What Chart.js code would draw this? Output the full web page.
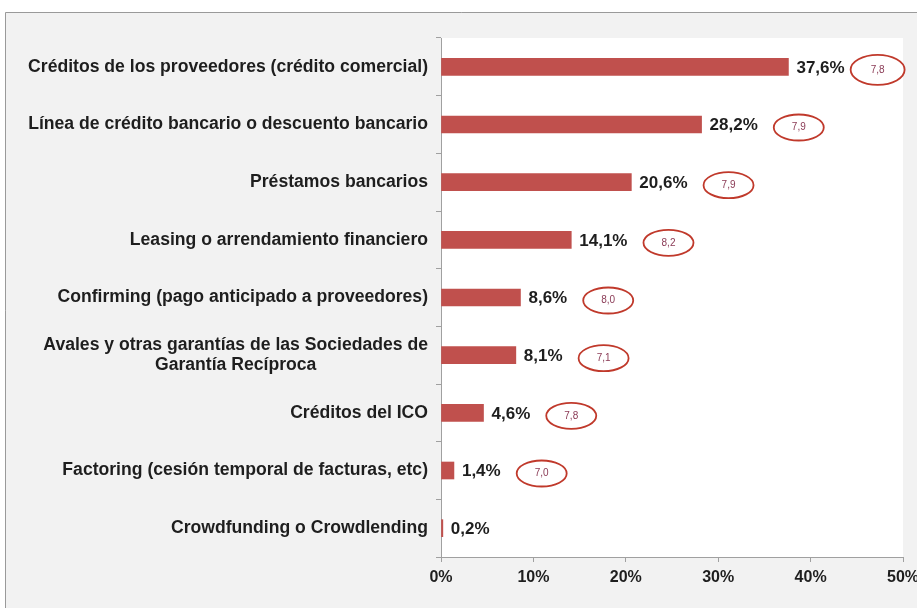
<!DOCTYPE html>
<html>
<head>
<meta charset="utf-8">
<script src="https://cdn.jsdelivr.net/npm/chart.js@4"></script>
<style>
  html, body { margin: 0; padding: 0; background: #fff; }
  #wrap { width: 917px; height: 608px; }
</style>
</head>
<body>
<div id="wrap"><canvas id="financeChart" width="917" height="608"></canvas></div>
<script>
'use strict';

// ------------------------------------------------------------
// Data
// ------------------------------------------------------------
const categories = [
    'Créditos de los proveedores (crédito comercial)',
    'Línea de crédito bancario o descuento bancario',
    'Préstamos bancarios',
    'Leasing o arrendamiento financiero',
    'Confirming (pago anticipado a proveedores)',
    ['Avales y otras garantías de las Sociedades de', 'Garantía Recíproca'],
    'Créditos del ICO',
    'Factoring (cesión temporal de facturas, etc)',
    'Crowdfunding o Crowdlending'
];
const usagePct = [37.6, 28.2, 20.6, 14.1, 8.6, 8.1, 4.6, 1.4, 0.2];
const ratings  = ['7,8', '7,9', '7,9', '8,2', '8,0', '7,1', '7,8', '7,0', null];
const xTicks   = [0, 10, 20, 30, 40, 50];

const BAR_RED  = '#c0504d';
const FONT     = "'Liberation Sans', Arial, sans-serif";
const fmt      = v => v.toFixed(1).replace('.', ',') + '%';

// ------------------------------------------------------------
// Plugins
// ------------------------------------------------------------
// page background: grey panel with border, white plot area
const backdrop = {
    id: 'backdrop',
    beforeDraw(chart) {
        const { ctx, chartArea: a, width, height } = chart;
        ctx.save();
        ctx.fillStyle = '#ffffff';
        ctx.fillRect(0, 0, width, height);
        ctx.fillStyle = '#f2f2f2';
        ctx.fillRect(5, 12, width - 5, height - 12);
        ctx.strokeStyle = '#9a9a9a';
        ctx.lineWidth = 1;
        ctx.beginPath();
        ctx.moveTo(5.5, height);
        ctx.lineTo(5.5, 12.5);
        ctx.lineTo(width, 12.5);
        ctx.stroke();
        ctx.fillStyle = '#ffffff';
        ctx.fillRect(a.left, a.top, a.right - a.left, a.bottom - a.top);
        ctx.restore();
    }
};

// category labels: right aligned block, multi-line lines centred on each other
const catLabels = {
    id: 'catLabels',
    afterDraw(chart) {
        const { ctx, scales: { y } } = chart;
        const right = chart.chartArea.left - 13;
        const lh = 20;
        ctx.save();
        ctx.font = 'bold 17.6px ' + FONT;
        ctx.fillStyle = '#1e1e1e';
        ctx.textBaseline = 'middle';
        categories.forEach((lab, i) => {
            const lines = Array.isArray(lab) ? lab : [lab];
            const yc = y.getPixelForValue(i);
            const maxW = Math.max(...lines.map(l => ctx.measureText(l).width));
            const y0 = yc - (lines.length - 1) * lh / 2;
            lines.forEach((l, j) => {
                if (lines.length > 1) {
                    ctx.textAlign = 'center';
                    ctx.fillText(l, right - maxW / 2, y0 + j * lh);
                } else {
                    ctx.textAlign = 'right';
                    ctx.fillText(l, right, y0);
                }
            });
        });
        ctx.restore();
    }
};

// value labels and circled ratings
const valueLabels = {
    id: 'valueLabels',
    afterDatasetsDraw(chart) {
        const { ctx } = chart;
        const bars = chart.getDatasetMeta(0).data;
        ctx.save();
        bars.forEach((bar, i) => {
            const txt = fmt(usagePct[i]);
            ctx.font = 'bold 17px ' + FONT;
            ctx.fillStyle = '#1e1e1e';
            ctx.textAlign = 'left';
            ctx.textBaseline = 'middle';
            const x = bar.x + 8;
            ctx.fillText(txt, x, bar.y + 1);
            if (!ratings[i]) return;
            const w = ctx.measureText(txt).width;
            const first = i === 0;
            const rx = first ? 27 : 25, ry = first ? 15 : 13;
            const cx = x + w + (first ? 6 : 16) + rx;
            const cy = bar.y + 3;
            ctx.beginPath();
            ctx.ellipse(cx, cy, rx, ry, 0, 0, Math.PI * 2);
            ctx.strokeStyle = '#c0392b';
            ctx.lineWidth = 1.8;
            ctx.stroke();
            ctx.font = '10px ' + FONT;
            ctx.fillStyle = '#8a3a55';
            ctx.textAlign = 'center';
            ctx.fillText(ratings[i], cx, cy);
        });
        ctx.restore();
    }
};

// ------------------------------------------------------------
// Chart
// ------------------------------------------------------------
new Chart(document.getElementById('financeChart'), {
    type: 'bar',
    data: {
        labels: categories,
        datasets: [{
            data: usagePct,
            backgroundColor: BAR_RED,
            borderWidth: 0,
            barThickness: 17
        }]
    },
    options: {
        indexAxis: 'y',
        responsive: false,
        animation: false,
        events: [],
        layout: { padding: { top: 38, right: 14, left: 0, bottom: 0 } },
        plugins: { legend: { display: false }, tooltip: { enabled: false } },
        scales: {
            y: {
                afterFit(scale) { scale.width = 441; },
                ticks: { display: false },
                grid: { drawOnChartArea: false, drawTicks: true, tickLength: 5, offset: true, color: '#a0a0a0' },
                border: { color: '#a0a0a0' }
            },
            x: {
                min: xTicks[0],
                max: xTicks[xTicks.length - 1],
                afterFit(scale) {
                    scale.height = 51;
                    scale.paddingLeft = 0;
                    scale.paddingRight = 0;
                },
                afterBuildTicks(scale) { scale.ticks = xTicks.map(v => ({ value: v })); },
                ticks: {
                    callback: v => v + '%',
                    color: '#1e1e1e',
                    font: { family: FONT, size: 16, weight: 'bold' },
                    padding: 6
                },
                grid: { drawOnChartArea: false, drawTicks: true, tickLength: 5, color: '#a0a0a0' },
                border: { color: '#a0a0a0' }
            }
        }
    },
    plugins: [backdrop, catLabels, valueLabels]
});
</script>
</body>
</html>
